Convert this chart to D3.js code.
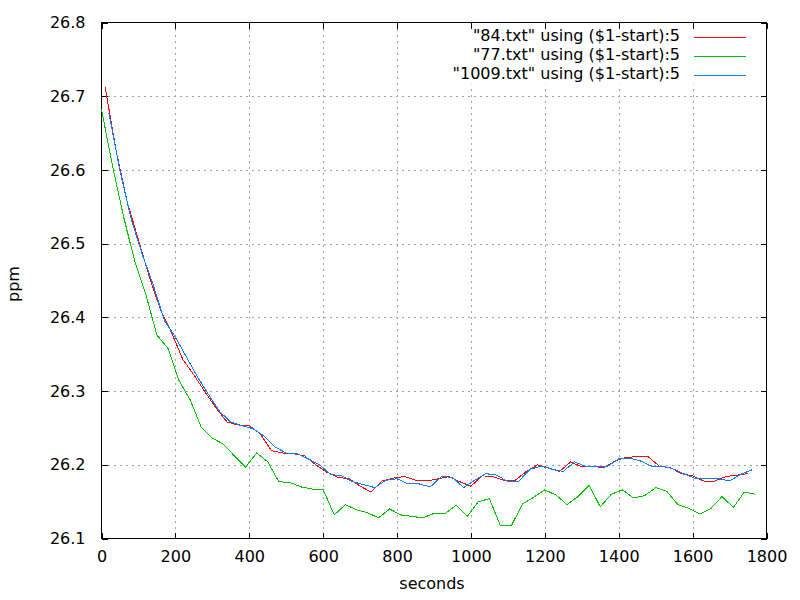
<!DOCTYPE html>
<html>
<head>
<meta charset="utf-8">
<script src="https://cdn.jsdelivr.net/npm/d3@7"></script>
<style>
  body { margin: 0; background: #fff; }
  svg { display: block; }
  text { font-family: "DejaVu Sans", sans-serif; font-size: 16px; fill: #000; }
</style>
</head>
<body>
<svg id="chart" width="800" height="600"></svg>
<script>
// ---- data ----
const xTicks = [0, 200, 400, 600, 800, 1000, 1200, 1400, 1600, 1800];
const yTicks = [26.1, 26.2, 26.3, 26.4, 26.5, 26.6, 26.7, 26.8];
const seriesNames = ['"84.txt" using ($1-start):5', '"77.txt" using ($1-start):5', '"1009.txt" using ($1-start):5'];
const seriesColors = ["#ff0000", "#00c000", "#0080ff"];

const t84 = [10,40,70,100,130,160,190,220,250,280,310,340,370,400,430,460,490,520,550,580,610,640,670,700,730,760,790,820,850,880,910,940,970,1000,1030,1060,1090,1120,1150,1180,1210,1240,1270,1300,1330,1360,1390,1420,1450,1480,1510,1540,1570,1600,1630,1660,1690,1720,1750];
const v84 = [26.712,26.625,26.556,26.505,26.454,26.410,26.379,26.343,26.322,26.299,26.277,26.258,26.254,26.253,26.242,26.219,26.216,26.215,26.212,26.200,26.190,26.183,26.181,26.171,26.163,26.178,26.182,26.184,26.179,26.178,26.181,26.184,26.177,26.171,26.185,26.184,26.179,26.179,26.191,26.200,26.196,26.191,26.204,26.197,26.198,26.196,26.205,26.210,26.211,26.211,26.198,26.196,26.188,26.185,26.178,26.178,26.184,26.186,26.188];

const t77 = [0,30,60,90,120,150,180,210,240,270,300,330,360,390,420,450,480,510,540,570,600,630,660,690,720,750,780,810,840,870,900,930,960,990,1020,1050,1080,1110,1140,1170,1200,1230,1260,1290,1320,1350,1380,1410,1440,1470,1500,1530,1560,1590,1620,1650,1680,1710,1740,1770];
const v77 = [26.682,26.605,26.536,26.476,26.431,26.376,26.358,26.314,26.288,26.251,26.236,26.228,26.212,26.197,26.216,26.204,26.177,26.176,26.170,26.167,26.166,26.132,26.146,26.139,26.135,26.128,26.140,26.132,26.130,26.128,26.134,26.134,26.145,26.130,26.150,26.154,26.117,26.118,26.147,26.156,26.166,26.159,26.146,26.157,26.172,26.143,26.160,26.166,26.155,26.158,26.169,26.164,26.146,26.141,26.133,26.141,26.157,26.142,26.163,26.160];

const t1009 = [20,50,80,110,140,170,200,230,260,290,320,350,380,410,440,470,500,530,560,590,620,650,680,710,740,770,800,830,860,890,920,950,980,1010,1040,1070,1100,1130,1160,1190,1220,1250,1280,1310,1340,1370,1400,1430,1460,1490,1520,1550,1580,1610,1640,1670,1700,1730,1760];
const v1009 = [26.677,26.599,26.534,26.486,26.444,26.396,26.373,26.346,26.319,26.295,26.272,26.258,26.253,26.249,26.239,26.224,26.216,26.215,26.208,26.200,26.187,26.185,26.177,26.173,26.169,26.179,26.181,26.174,26.174,26.170,26.184,26.183,26.169,26.179,26.188,26.186,26.177,26.178,26.194,26.198,26.194,26.191,26.204,26.198,26.198,26.198,26.208,26.209,26.205,26.198,26.198,26.194,26.187,26.181,26.181,26.181,26.178,26.187,26.193];

// ---- layout ----
const L = 101.5, R = 766.5, T = 22.5, B = 538.5;
const svg = d3.select("#chart");

const x = d3.scaleLinear().domain([0, 1800]).range([L, R]);
const y = d3.scaleLinear().domain([26.1, 26.8]).range([B, T]);

// grid
const grid = svg.append("g").attr("shape-rendering", "crispEdges")
  .attr("stroke", "#a0a0a0").attr("stroke-width", 1).attr("stroke-dasharray", "2,4");
grid.selectAll(".gx").data(xTicks.slice(1, -1)).join("line")
  .attr("x1", d => Math.round(x(d)) + 0.5).attr("x2", d => Math.round(x(d)) + 0.5)
  .attr("y1", T).attr("y2", B);
grid.selectAll(".gy").data(yTicks.slice(1, -1)).join("line")
  .attr("y1", d => Math.round(y(d)) + 0.5).attr("y2", d => Math.round(y(d)) + 0.5)
  .attr("x1", L).attr("x2", R);

// legend background (opaque key)
svg.append("rect").attr("x", 446).attr("y", T).attr("width", R - 446).attr("height", 62).attr("fill", "#fff");

// axes with ticks (inside, mirrored)
const tk = 6;
const axB = svg.append("g").attr("transform", `translate(0,${B})`)
  .call(d3.axisBottom(x).tickValues(xTicks).tickSize(-tk).tickPadding(12).tickFormat(d3.format("d")));
const axT = svg.append("g").attr("transform", `translate(0,${T})`)
  .call(d3.axisTop(x).tickValues(xTicks).tickSize(-tk).tickFormat(""));
const axL = svg.append("g").attr("transform", `translate(${L},0)`)
  .call(d3.axisLeft(y).tickValues(yTicks).tickSize(-tk).tickPadding(16).tickFormat(d3.format(".1f")));
const axR = svg.append("g").attr("transform", `translate(${R},0)`)
  .call(d3.axisRight(y).tickValues(yTicks).tickSize(-tk).tickFormat(""));
[axB, axT, axL, axR].forEach(a => {
  a.attr("shape-rendering", "crispEdges");
  a.select(".domain").remove();
  a.selectAll(".tick line").attr("stroke", "#000");
  a.selectAll("text").attr("font-family", "DejaVu Sans").attr("font-size", 16).attr("fill", "#000");
});
axB.selectAll("text").attr("dy", "0.71em");
// border
svg.append("rect").attr("x", L).attr("y", T).attr("width", R - L).attr("height", B - T)
  .attr("fill", "none").attr("stroke", "#000").attr("shape-rendering", "crispEdges");

// series
const line = d3.line().x(d => x(d[0])).y(d => y(d[1]));
const series = [
  d3.zip(t84, v84),
  d3.zip(t77, v77),
  d3.zip(t1009, v1009)
];
series.forEach((s, i) => {
  svg.append("path").datum(s).attr("d", line)
    .attr("fill", "none").attr("stroke", seriesColors[i]).attr("stroke-width", 1)
    .attr("shape-rendering", "crispEdges");
});

// legend
const lg = svg.append("g");
seriesNames.forEach((n, i) => {
  const yy = 36 + i * 19;
  lg.append("text").attr("x", 680).attr("y", yy).attr("text-anchor", "end")
    .attr("dominant-baseline", "middle").text(n);
  lg.append("line").attr("x1", 694).attr("x2", 746).attr("y1", yy + 1.5).attr("y2", yy + 1.5)
    .attr("stroke", seriesColors[i]).attr("shape-rendering", "crispEdges");
});

// axis titles
svg.append("text").attr("x", 432).attr("y", 584).attr("text-anchor", "middle")
  .attr("dominant-baseline", "middle").text("seconds");
svg.append("text").attr("transform", "translate(14,284) rotate(-90)").attr("text-anchor", "middle")
  .attr("dominant-baseline", "middle").text("ppm");
</script>
</body>
</html>
